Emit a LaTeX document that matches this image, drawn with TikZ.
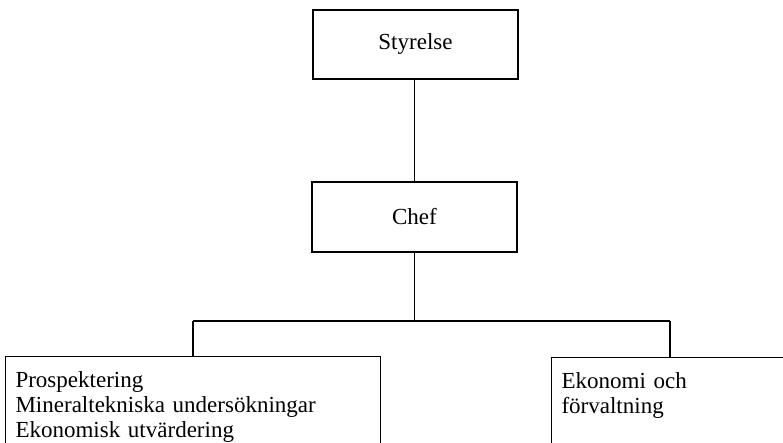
\documentclass[tikz,border=0pt]{standalone}
\usepackage{fontspec}
\setmainfont{Liberation Serif}
\usepackage{tikz}
\usetikzlibrary{calc}

\begin{document}
\begin{tikzpicture}[x=1pt, y=-1pt, line width=1.1pt,
  topbox/.style={draw, minimum width=205pt, minimum height=69pt, inner sep=0pt,
    font=\fontsize{23}{25}\selectfont},
  unitbox/.style={draw, anchor=north west, align=left, inner xsep=10pt,
    inner ysep=15pt, text depth=80pt, font=\fontsize{23}{25}\selectfont}]
\useasboundingbox (0, 0) rectangle (783, 442);
\clip (0, 0) rectangle (783, 442);
\node[topbox] (styrelse) at (415.5, 44.5) {Styrelse};
\node[topbox, minimum height=70pt] (chef) at (414.5, 217) {Chef};
\draw (styrelse.south -| chef.north) -- (chef.north);
\node[unitbox, text width=355pt] (prosp) at (5, 356)
  {Prospektering\\Mineraltekniska undersökningar\\Ekonomisk utvärdering};
\node[unitbox, text width=260pt] (ekon) at (551, 357)
  {Ekonomi och\\förvaltning};
\coordinate (fork) at ($(chef.south) + (0, 69)$);
\coordinate (bl) at (193, 321);
\coordinate (br) at (670, 321);
\draw (chef.south) -- (fork);
\draw (bl) -- (br);
\draw (bl) -- (bl |- prosp.north);
\draw (br) -- (br |- ekon.north);
\end{tikzpicture}
\end{document}
